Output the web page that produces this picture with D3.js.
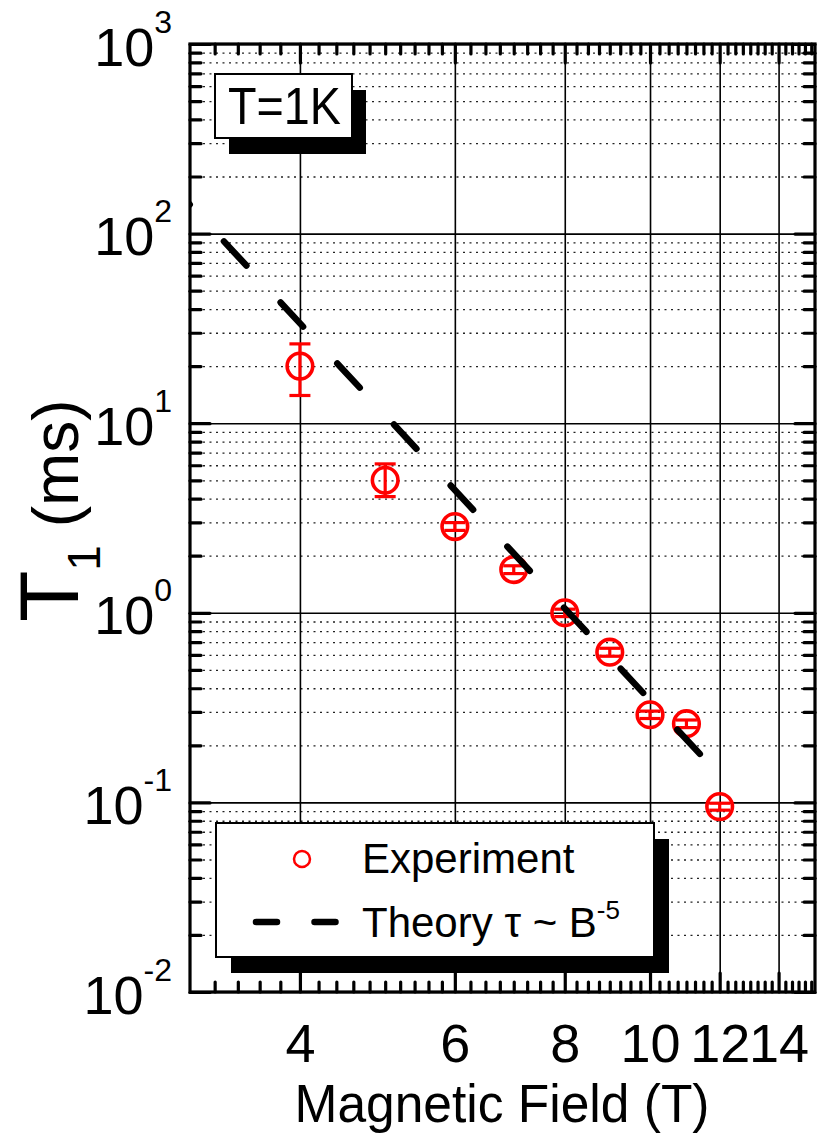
<!DOCTYPE html>
<html>
<head>
<meta charset="utf-8">
<script src="https://cdn.jsdelivr.net/npm/d3@7"></script>
<style>
  body { margin: 0; background: #fff; }
  svg { display: block; }
  text { font-family: Arial, "Liberation Sans", sans-serif; fill: #000; }
</style>
</head>
<body>
<svg id="chart" width="817" height="1135"></svg>
<script>
// Spin relaxation time T1 versus magnetic field at T = 1 K
const fieldT   = [4, 5, 6, 7, 8, 9, 10, 11, 12];
const t1ms     = [20.0, 5.0, 2.85, 1.69, 1.0, 0.62, 0.29, 0.26, 0.095];
const errLow   = [14.0, 4.1, 2.72, 1.61, 0.955, 0.59, 0.277, 0.248, 0.091];
const errHigh  = [26.2, 6.1, 2.99, 1.77, 1.045, 0.65, 0.303, 0.272, 0.099];

// Theory curve tau ~ B^-5 (straight line on log-log axes, given by its end points)
const theoryField = [2.9, 12];
const theoryT1    = [168, 0.139];

const xTickValues    = [4, 6, 8, 10, 12, 14];
const yTickExponents = [-2, -1, 0, 1, 2, 3];

const svg = d3.select("#chart");
const L = 190, R = 815, T = 44, B = 992;

const x = d3.scaleLog().domain([3, 15.4]).range([L, R]);
const y = d3.scaleLog().domain([0.01, 1000]).range([B, T]);

// minor tick positions
const xMinor = d3.range(32, 60, 2).map(v => v / 10)
  .concat(d3.range(625, 1540, 25).map(v => v / 100))
  .filter(v => !xTickValues.includes(v));
const yMajor = yTickExponents.map(e => Math.pow(10, e));
const yMinor = [];
yTickExponents.slice(0, -1).forEach(e => {
  for (let k = 2; k <= 9; k++) yMinor.push(k * Math.pow(10, e));
});

// clip region
svg.append("defs").append("clipPath").attr("id", "plotClip")
  .append("rect").attr("x", L).attr("y", T).attr("width", R - L).attr("height", B - T);

// ---- grid ----
const grid = svg.append("g");
grid.append("g").attr("transform", `translate(${L},0)`)
  .call(d3.axisLeft(y).tickValues(yMinor).tickSize(-(R - L)).tickFormat(""))
  .call(g => g.select(".domain").remove())
  .call(g => g.selectAll("line").attr("stroke", "#222").attr("stroke-width", 1.3)
    .attr("stroke-dasharray", "2,4.5"));
grid.append("g").attr("transform", `translate(${L},0)`)
  .call(d3.axisLeft(y).tickValues(yMajor).tickSize(-(R - L)).tickFormat(""))
  .call(g => g.select(".domain").remove())
  .call(g => g.selectAll("line").attr("stroke", "#000").attr("stroke-width", 1.6));
grid.append("g").attr("transform", `translate(0,${B})`)
  .call(d3.axisBottom(x).tickValues(xTickValues).tickSize(-(B - T)).tickFormat(""))
  .call(g => g.select(".domain").remove())
  .call(g => g.selectAll("line").attr("stroke", "#000").attr("stroke-width", 1.6));

// ---- annotation boxes with drop shadows ----
function shadowBox(x0, y0, w, h, dx, dy) {
  svg.append("rect").attr("x", x0 + dx).attr("y", y0 + dy).attr("width", w).attr("height", h)
    .attr("fill", "#000");
  svg.append("rect").attr("x", x0).attr("y", y0).attr("width", w).attr("height", h)
    .attr("fill", "#fff").attr("stroke", "#000").attr("stroke-width", 2);
}
shadowBox(215, 74, 137, 64, 14, 16);
svg.append("text").attr("x", 228).attr("y", 124).attr("font-size", 51)
  .attr("textLength", 113).attr("lengthAdjust", "spacingAndGlyphs").text("T=1K");

// legend
shadowBox(216, 823, 438, 134, 15, 16);
svg.append("circle").attr("cx", 302).attr("cy", 859).attr("r", 8)
  .attr("fill", "none").attr("stroke", "#ff0000").attr("stroke-width", 2.5);
svg.append("text").attr("x", 362).attr("y", 873).attr("font-size", 42).text("Experiment");
svg.append("line").attr("x1", 256).attr("x2", 337).attr("y1", 922).attr("y2", 922)
  .attr("stroke", "#000").attr("stroke-width", 6.5).attr("stroke-linecap", "round")
  .attr("stroke-dasharray", "21,37.5");
const lt = svg.append("text").attr("x", 362).attr("y", 937).attr("font-size", 42);
lt.append("tspan").text("Theory \u03C4 ~ B");
lt.append("tspan").attr("font-size", 26).attr("dy", -18).text("-5");

// ---- experimental points ----
const pts = svg.append("g");
const data = fieldT.map((b, i) => ({ b, v: t1ms[i], lo: errLow[i], hi: errHigh[i] }));
pts.selectAll("line.err").data(data).join("line")
  .attr("x1", d => x(d.b)).attr("x2", d => x(d.b))
  .attr("y1", d => y(d.lo)).attr("y2", d => y(d.hi))
  .attr("stroke", "#ff0000").attr("stroke-width", 3.2);
["lo", "hi"].forEach(k => {
  pts.selectAll("line.cap" + k).data(data).join("line")
    .attr("x1", d => x(d.b) - 10.5).attr("x2", d => x(d.b) + 10.5)
    .attr("y1", d => y(d[k])).attr("y2", d => y(d[k]))
    .attr("stroke", "#ff0000").attr("stroke-width", 3.2);
});
pts.selectAll("circle").data(data).join("circle")
  .attr("cx", d => x(d.b)).attr("cy", d => y(d.v)).attr("r", 12.8)
  .attr("fill", "none").attr("stroke", "#ff0000").attr("stroke-width", 3.6);

// ---- theory line ----
const theory = theoryField.map((b, i) => ({ b, v: theoryT1[i] }));
svg.append("path").datum(theory)
  .attr("clip-path", "url(#plotClip)")
  .attr("d", d3.line().x(d => x(d.b)).y(d => y(d.v)))
  .attr("fill", "none").attr("stroke", "#000").attr("stroke-width", 6.5)
  .attr("stroke-linecap", "round").attr("stroke-dasharray", "33,50.3")
  .attr("stroke-dashoffset", 14.4);

// ---- axes: inward ticks on all four sides ----
function styleTicks(g, w) {
  g.select(".domain").remove();
  g.selectAll("line").attr("stroke", "#000").attr("stroke-width", w).attr("stroke-linecap", "round");
}
const axes = svg.append("g");
axes.append("g").attr("transform", `translate(0,${B})`)
  .call(d3.axisBottom(x).tickValues(xMinor).tickSize(-10).tickFormat("")).call(g => styleTicks(g, 3.2));
axes.append("g").attr("transform", `translate(0,${B})`)
  .call(d3.axisBottom(x).tickValues(xTickValues).tickSize(-19).tickFormat("")).call(g => styleTicks(g, 3.2));
axes.append("g").attr("transform", `translate(0,${T})`)
  .call(d3.axisTop(x).tickValues(xMinor).tickSize(-10).tickFormat("")).call(g => styleTicks(g, 3.2));
axes.append("g").attr("transform", `translate(0,${T})`)
  .call(d3.axisTop(x).tickValues(xTickValues).tickSize(-19).tickFormat("")).call(g => styleTicks(g, 3.2));
axes.append("g").attr("transform", `translate(${L},0)`)
  .call(d3.axisLeft(y).tickValues(yMinor).tickSize(-11).tickFormat("")).call(g => styleTicks(g, 3.2));
axes.append("g").attr("transform", `translate(${L},0)`)
  .call(d3.axisLeft(y).tickValues(yMajor).tickSize(-20).tickFormat("")).call(g => styleTicks(g, 3.2));
axes.append("g").attr("transform", `translate(${R},0)`)
  .call(d3.axisRight(y).tickValues(yMinor).tickSize(-11).tickFormat("")).call(g => styleTicks(g, 3.2));
axes.append("g").attr("transform", `translate(${R},0)`)
  .call(d3.axisRight(y).tickValues(yMajor).tickSize(-20).tickFormat("")).call(g => styleTicks(g, 3.2));
axes.append("rect").attr("x", L).attr("y", T).attr("width", R - L).attr("height", B - T)
  .attr("fill", "none").attr("stroke", "#000").attr("stroke-width", 3.2);

// x tick labels
const xl = svg.append("g").attr("transform", `translate(0,${B})`)
  .call(d3.axisBottom(x).tickValues(xTickValues).tickSize(0).tickPadding(0).tickFormat(d3.format("d")));
xl.select(".domain").remove();
xl.selectAll("text").attr("font-size", 54).attr("font-family", "Arial, 'Liberation Sans', sans-serif")
  .attr("dy", null).attr("y", 70);

// y tick labels: 10 with exponent
const yl = svg.append("g").attr("transform", `translate(172,0)`)
  .call(d3.axisLeft(y).tickValues(yMajor).tickSize(0).tickPadding(0).tickFormat(""));
yl.select(".domain").remove();
yl.selectAll(".tick text").each(function (d) {
  const t = d3.select(this).attr("x", 0).attr("dy", null).attr("y", 21)
    .attr("font-size", 54).attr("text-anchor", "end")
    .attr("font-family", "Arial, 'Liberation Sans', sans-serif");
  t.append("tspan").text("10");
  t.append("tspan").attr("font-size", 32).attr("dy", -33).text(Math.round(Math.log10(d)));
});

// axis titles
svg.append("text").attr("x", 502).attr("y", 1122).attr("font-size", 54).attr("text-anchor", "middle")
  .attr("textLength", 415).attr("lengthAdjust", "spacingAndGlyphs").text("Magnetic Field (T)");
const yt = svg.append("text").attr("transform", "translate(78,622) rotate(-90)").attr("font-size", 84);
yt.append("tspan").text("T");
yt.append("tspan").attr("font-size", 46).attr("dy", 22).text("1");
yt.append("tspan").attr("font-size", 64).attr("dy", -22).text(" (ms)");
</script>
</body>
</html>
